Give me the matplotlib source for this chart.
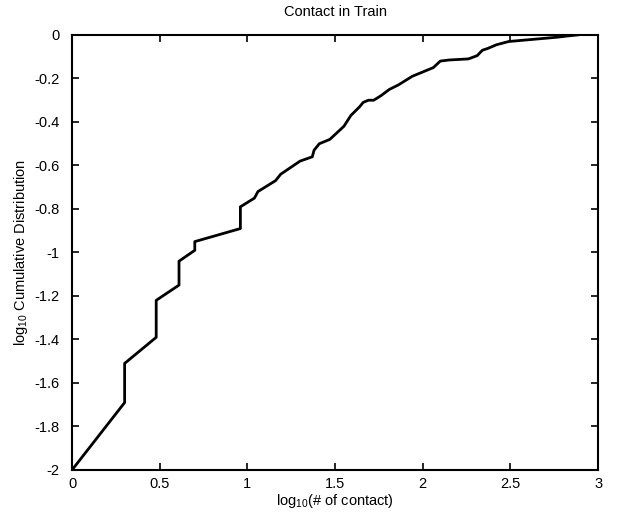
import numpy as np
import matplotlib
matplotlib.use("Agg")
import matplotlib.pyplot as plt

plt.rcParams['font.family'] = ['Liberation Sans', 'DejaVu Sans']
plt.rcParams['mathtext.fontset'] = 'custom'
plt.rcParams['mathtext.rm'] = 'Liberation Sans'
plt.rcParams['mathtext.it'] = 'Liberation Sans'
plt.rcParams['axes.unicode_minus'] = False

# log10(# of contact) vs log10 cumulative distribution
log_contact = [0.00, 0.30, 0.30, 0.48, 0.48, 0.61, 0.61, 0.70, 0.70, 0.96,
               0.96, 1.04, 1.06, 1.16, 1.19, 1.30, 1.37, 1.38, 1.41, 1.47,
               1.51, 1.55, 1.59, 1.64, 1.66, 1.69, 1.72, 1.76, 1.81, 1.86,
               1.90, 1.94, 2.00, 2.06, 2.10, 2.15, 2.26, 2.31, 2.34, 2.37,
               2.42, 2.49, 2.63, 2.77, 2.82, 2.88]
log_cdf = [-2.00, -1.69, -1.51, -1.39, -1.22, -1.15, -1.04, -0.99, -0.95, -0.89,
           -0.79, -0.75, -0.72, -0.67, -0.64, -0.58, -0.56, -0.53, -0.50, -0.48,
           -0.45, -0.42, -0.37, -0.33, -0.31, -0.30, -0.30, -0.28, -0.25, -0.23,
           -0.21, -0.19, -0.17, -0.15, -0.12, -0.115, -0.11, -0.095, -0.07, -0.062,
           -0.045, -0.03, -0.02, -0.01, -0.005, 0.0]

x_ticks = [0, 0.5, 1, 1.5, 2, 2.5, 3]
x_ticklabels = ['0', '0.5', '1', '1.5', '2', '2.5', '3']
y_ticks = [0, -0.2, -0.4, -0.6, -0.8, -1, -1.2, -1.4, -1.6, -1.8, -2]
y_ticklabels = ['0', '-0.2', '-0.4', '-0.6', '-0.8', '-1', '-1.2', '-1.4', '-1.6', '-1.8', '-2']

fig = plt.figure(figsize=(6.29, 5.26), dpi=100)
ax = fig.add_axes([0.1145, 0.1065, 0.8365, 0.827])

ax.plot(log_contact, log_cdf, color='black', linewidth=2.0)

ax.set_xlim(0, 3)
ax.set_ylim(-2, 0)
ax.set_xticks(x_ticks)
ax.set_xticklabels(x_ticklabels)
ax.set_yticks(y_ticks)
ax.set_yticklabels(y_ticklabels)
ax.tick_params(direction='in', length=5, width=1.2, top=True, right=True,
               labelsize=10.5, colors='black')
ax.tick_params(axis='y', pad=9)
ax.tick_params(axis='x', pad=5)
for s in ax.spines.values():
    s.set_linewidth(1.5)

ax.set_title('Contact in Train', fontsize=10.5, pad=14)
ax.set_xlabel('log$_{10}$(# of contact)', fontsize=10.5, labelpad=1)
ax.set_ylabel('log$_{10}$ Cumulative Distribution', fontsize=10.5, labelpad=3)

fig.savefig('out.png', dpi=100)
